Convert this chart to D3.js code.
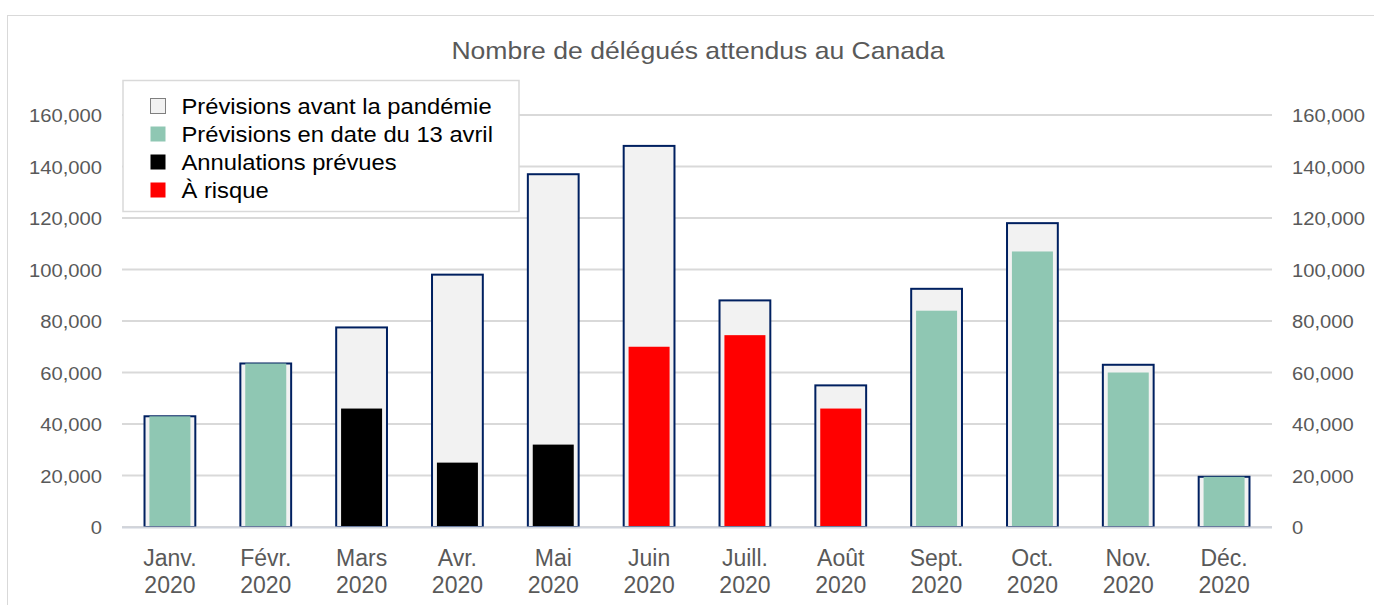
<!DOCTYPE html>
<html>
<head>
<meta charset="utf-8">
<script src="https://cdn.jsdelivr.net/npm/d3@7"></script>
<style>
  body { margin: 0; background: #fff; }
  svg { font-family: "Liberation Sans", Arial, sans-serif; }
</style>
</head>
<body>
<div id="chart"></div>
<script>
// months (two-line labels)
var months = ["Janv.", "Févr.", "Mars", "Avr.", "Mai", "Juin", "Juill.", "Août", "Sept.", "Oct.", "Nov.", "Déc."];
var year = "2020";

// pre-pandemic forecast (outer bars)
var avantPandemie = [43000, 63500, 77500, 98000, 137000, 148000, 88000, 55000, 92500, 118000, 63000, 19500];
// inner bars: value and type
var innerValues = [43000, 63500, 46000, 25000, 32000, 70000, 74500, 46000, 84000, 107000, 60000, 19500];
var innerTypes = ["avril", "avril", "annul", "annul", "annul", "risque", "risque", "risque", "avril", "avril", "avril", "avril"];

var yTicks = [0, 20000, 40000, 60000, 80000, 100000, 120000, 140000, 160000];

var legendLabels = ["Prévisions avant la pandémie", "Prévisions en date du 13 avril", "Annulations prévues", "À risque"];
var legendKeys = ["avant", "avril", "annul", "risque"];

var colors = { avant: "#f2f2f2", avril: "#8fc7b3", annul: "#000000", risque: "#ff0000" };

var W = 1374, H = 605;
var stretch = 1.08; // text in the picture is a bit wider than tall

var svg = d3.select("#chart").append("svg")
    .attr("width", W)
    .attr("height", H);

// outer chart frame
svg.append("rect")
    .attr("x", 7.5).attr("y", 15.5)
    .attr("width", W + 10).attr("height", H + 10)
    .attr("fill", "#fff")
    .attr("stroke", "#d9d9d9");

var x = d3.scaleBand()
    .domain(months)
    .range([122, 1272])
    .paddingInner(0)
    .paddingOuter(0);

var y = d3.scaleLinear()
    .domain([0, 160000])
    .range([527, 115]);

var fmt = d3.format(",");

// gridlines
svg.append("g").selectAll("line")
    .data(yTicks)
    .enter()
    .append("line")
    .attr("x1", 122).attr("x2", 1272)
    .attr("y1", function (d) { return y(d); })
    .attr("y2", function (d) { return y(d); })
    .attr("stroke", "#d9d9d9")
    .attr("stroke-width", 2);

// left axis
var leftAxis = svg.append("g")
    .attr("transform", "translate(102,0)")
    .call(d3.axisLeft(y).tickValues(yTicks).tickFormat(fmt).tickSize(0).tickPadding(0));
leftAxis.select(".domain").remove();
leftAxis.selectAll("text")
    .attr("fill", "#595959")
    .style("font-size", "18.7px")
    .attr("dy", "0.35em")
    .attr("transform", "scale(" + stretch + ",1)");

// right axis
var rightAxis = svg.append("g")
    .attr("transform", "translate(1292,0)")
    .call(d3.axisRight(y).tickValues(yTicks).tickFormat(fmt).tickSize(0).tickPadding(0));
rightAxis.select(".domain").remove();
rightAxis.selectAll("text")
    .attr("fill", "#595959")
    .style("font-size", "18.7px")
    .attr("dy", "0.35em")
    .attr("transform", "scale(" + stretch + ",1)");

var outerW = x.bandwidth() * 0.53;
var innerW = 41;

// outer bars
svg.append("g").selectAll("rect")
    .data(avantPandemie)
    .enter()
    .append("rect")
    .attr("x", function (d, i) { return x(months[i]) + (x.bandwidth() - outerW) / 2; })
    .attr("width", outerW)
    .attr("y", function (d) { return y(d); })
    .attr("height", function (d) { return y(0) - y(d); })
    .attr("fill", colors.avant)
    .attr("stroke", "#002060")
    .attr("stroke-width", 2);

// inner bars
svg.append("g").selectAll("rect")
    .data(innerValues)
    .enter()
    .append("rect")
    .attr("x", function (d, i) { return x(months[i]) + (x.bandwidth() - innerW) / 2; })
    .attr("width", innerW)
    .attr("y", function (d) { return y(d); })
    .attr("height", function (d) { return y(0) - y(d) - 1; })
    .attr("fill", function (d, i) { return colors[innerTypes[i]]; });

// baseline
svg.append("line")
    .attr("x1", 122).attr("x2", 1272)
    .attr("y1", y(0) + 0.5).attr("y2", y(0) + 0.5)
    .attr("stroke", "#d0d4dc")
    .attr("stroke-width", 2);

// month labels
var xl = svg.append("g").selectAll("g")
    .data(months)
    .enter()
    .append("g")
    .attr("transform", function (d) { return "translate(" + (x(d) + x.bandwidth() / 2) + ",566)"; })
    .append("text")
    .attr("text-anchor", "middle")
    .attr("fill", "#595959")
    .style("font-size", "23px");
xl.append("tspan")
    .attr("x", 0)
    .text(function (d) { return d; });
xl.append("tspan")
    .attr("x", 0)
    .attr("dy", 27)
    .text(year);

// title
svg.append("g")
    .attr("transform", "translate(698,59)")
    .append("text")
    .attr("text-anchor", "middle")
    .attr("transform", "scale(" + stretch + ",1)")
    .attr("fill", "#595959")
    .style("font-size", "24.6px")
    .text("Nombre de délégués attendus au Canada");

// legend
var legend = svg.append("g");
legend.append("rect")
    .attr("x", 123).attr("y", 80.5)
    .attr("width", 396).attr("height", 131)
    .attr("fill", "#fff")
    .attr("stroke", "#d9d9d9")
    .attr("stroke-width", 1.5);

var items = legend.selectAll("g.item")
    .data(legendLabels)
    .enter()
    .append("g")
    .attr("class", "item")
    .attr("transform", function (d, i) { return "translate(150," + (106 + i * 28) + ")"; });
items.append("rect")
    .attr("x", 0.5).attr("y", -7.5)
    .attr("width", 15).attr("height", 15)
    .attr("fill", function (d, i) { return colors[legendKeys[i]]; })
    .attr("stroke", function (d, i) { return i === 0 ? "#7f7f7f" : "none"; })
    .attr("stroke-width", 1);
items.append("g")
    .attr("transform", "translate(31.5,0)")
    .append("text")
    .attr("transform", "scale(" + stretch + ",1)")
    .attr("dy", "0.35em")
    .attr("fill", "#000")
    .style("font-size", "22px")
    .text(function (d) { return d; });
</script>
</body>
</html>
